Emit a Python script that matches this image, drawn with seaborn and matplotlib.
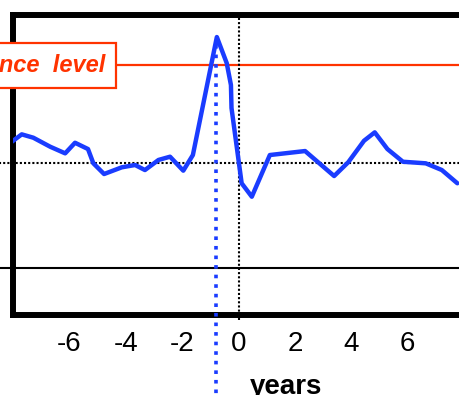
import numpy as np
import pandas as pd
import matplotlib
matplotlib.use("Agg")
import matplotlib.pyplot as plt
import seaborn as sns

# series (years relative to event, index value)
years = [-8.04, -7.69, -7.28, -6.68, -6.15, -5.80, -5.34, -5.15, -4.77, -4.14,
         -3.67, -3.32, -2.84, -2.43, -1.96, -1.62, -0.77, -0.42, -0.27, -0.25,
         0.11, 0.47, 1.11, 2.36, 3.39, 3.89, 4.45, 4.83, 5.28, 5.83,
         6.64, 7.21, 7.76]
value = [1.203, 1.273, 1.241, 1.155, 1.092, 1.193, 1.133, 0.997, 0.895, 0.959,
         0.981, 0.933, 1.029, 1.060, 0.927, 1.076, 2.20, 1.952, 1.743, 1.524,
         0.807, 0.679, 1.076, 1.114, 0.876, 1.007, 1.212, 1.292, 1.133, 1.012,
         0.997, 0.933, 0.807]

signif_level = 1.93
mean_level = 1.0
zero_level = 0.0
peak_year = -0.8
xticks = [-6, -4, -2, 0, 2, 4, 6]

df = pd.DataFrame({"years": years, "value": value})

sns.set_style("white")
plt.rcParams["font.family"] = ["Liberation Sans", "DejaVu Sans"]
plt.rcParams["axes.unicode_minus"] = False

blue = "#1a3cff"
red = "#ff3300"

fig = plt.figure(figsize=(4.59, 3.95), dpi=100)
# axes runs past the right edge, like the cropped original
ax = fig.add_axes([13 / 459, 80 / 395, (492.3 - 13) / 459, 300 / 395])

sns.lineplot(data=df, x="years", y="value", ax=ax, color=blue, lw=3.2, zorder=5)

ax.set_xlim(-8, 9)
ax.set_ylim(-0.448, 2.41)

# reference lines (they stick out past the left spine)
ax.plot([-9.5, 10], [signif_level] * 2, color=red, lw=1.6, clip_on=False, zorder=3)
ax.plot([-9.5, 10], [mean_level] * 2, color="black", lw=1.5, ls=(0, (1, 1)),
        clip_on=False, zorder=3)
ax.plot([-9.5, 10], [zero_level] * 2, color="black", lw=1.5, clip_on=False, zorder=3)
ax.plot([0, 0], [-0.05 - 0.448, 2.41], color="black", lw=1.5, ls=(0, (1, 1)),
        clip_on=False, zorder=3)
ax.plot([peak_year, peak_year], [2.12, -1.6], color=blue, lw=2.6, ls=":",
        clip_on=False, zorder=6)

ax.text(-4.73, signif_level, "significance  level", ha="right", va="center",
        fontsize=17, fontweight="bold", fontstyle="italic", color=red, zorder=10,
        clip_on=False,
        bbox=dict(boxstyle="square,pad=0.45", fc="white", ec=red, lw=1.6))

ax.set_xticks(xticks)
ax.set_xticklabels([str(t) for t in xticks])
ax.set_yticks([])
ax.tick_params(axis="x", length=0, pad=11.5, labelsize=20, colors="black")
ax.set_ylabel("")
ax.set_xlabel("years", fontsize=20, fontweight="bold", color="black")
ax.xaxis.set_label_coords(0.5706, -0.197)

for side in ["left", "top", "bottom"]:
    ax.spines[side].set_linewidth(4.3)
    ax.spines[side].set_color("black")
ax.spines["right"].set_visible(False)

fig.savefig("out.png", dpi=100)
